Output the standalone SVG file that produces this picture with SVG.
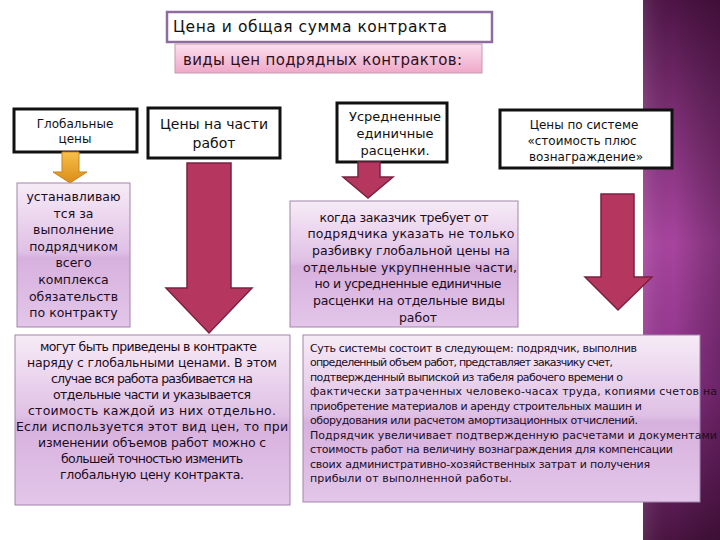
<svg xmlns="http://www.w3.org/2000/svg" width="720" height="540" viewBox="0 0 720 540">
<defs>
<linearGradient id="strip" x1="0" y1="0" x2="0" y2="1">
<stop offset="0" stop-color="#4e1446"/>
<stop offset="0.18" stop-color="#742a6c"/>
<stop offset="0.45" stop-color="#a8449f"/>
<stop offset="0.72" stop-color="#8c3288"/>
<stop offset="1" stop-color="#4a1442"/>
</linearGradient>
<linearGradient id="stripH" x1="0" y1="0" x2="1" y2="0">
<stop offset="0" stop-color="#ffffff" stop-opacity="0.1"/>
<stop offset="0.4" stop-color="#000000" stop-opacity="0"/>
<stop offset="1" stop-color="#200018" stop-opacity="0.3"/>
</linearGradient>
<linearGradient id="lav" x1="0" y1="0" x2="0" y2="1">
<stop offset="0" stop-color="#f7ebf7"/>
<stop offset="0.48" stop-color="#dfc0e5"/>
<stop offset="0.52" stop-color="#d7b1de"/>
<stop offset="1" stop-color="#e3c6e9"/>
</linearGradient>
<linearGradient id="pink" x1="0" y1="0" x2="0" y2="1">
<stop offset="0" stop-color="#fbe0ee"/>
<stop offset="1" stop-color="#efa8c8"/>
</linearGradient>
<linearGradient id="orange" x1="0" y1="0" x2="0" y2="1">
<stop offset="0" stop-color="#f6c04a"/>
<stop offset="1" stop-color="#dc8c18"/>
</linearGradient>
<style>
.hdr{fill:#fff;stroke:#111;stroke-width:3}
.lav{fill:url(#lav);stroke:#a283ab;stroke-width:1}
.arr{fill:#b5375f;stroke:#7a2142;stroke-width:1.5;stroke-linejoin:miter}
text{font-family:"DejaVu Sans","Liberation Sans",sans-serif}
.t12{font-size:12px;fill:#111;text-anchor:middle}
.t13{font-size:13px;fill:#111;text-anchor:middle}
.t14{font-size:14px;fill:#111;text-anchor:middle}
.p{font-size:12.5px;fill:#1c0c1c;text-anchor:middle}
.s{font-size:11px;fill:#1c0c1c}
</style>
</defs>
<rect width="720" height="540" fill="#ffffff"/>
<rect x="643" y="0" width="77" height="540" fill="url(#strip)"/>
<rect x="643" y="0" width="77" height="540" fill="url(#stripH)"/>

<g id="title">
<rect x="167" y="12" width="325" height="30" fill="#fff" stroke="#8f6c9f" stroke-width="2.5"/>
<text x="173" y="32" font-size="15.5" fill="#111" textLength="274">Цена и общая сумма контракта</text>
</g>
<g id="subtitle">
<rect x="175" y="44" width="307" height="29" fill="url(#pink)" stroke="#c69ab0" stroke-width="1"/>
<text x="183" y="65" font-size="15" fill="#2e0f22" textLength="279">виды цен подрядных контрактов:</text>
</g>

<g id="global">
<rect class="hdr" x="14" y="109" width="123" height="43"/>
<text class="t12" x="75" y="128">Глобальные</text>
<text class="t12" x="75" y="143">цены</text>
</g>
<g id="parts">
<rect class="hdr" x="148" y="108" width="132" height="50"/>
<text class="t14" x="214" y="129">Цены на части</text>
<text class="t14" x="214" y="148">работ</text>
</g>
<g id="avg">
<rect class="hdr" x="337" y="103" width="110" height="59"/>
<text class="t13" x="395" y="121">Усредненные</text>
<text class="t13" x="395" y="138">единичные</text>
<text class="t13" x="395" y="155">расценки.</text>
</g>
<g id="costplus">
<rect class="hdr" x="500" y="110" width="172" height="58"/>
<text class="t12" x="584" y="129">Цены по системе</text>
<text class="t12" x="582" y="145">«стоимость плюс</text>
<text class="t12" x="586" y="161">вознаграждение»</text>
</g>

<g id="connectors">
<polygon points="62,152 79,152 79,172 87,172 70,183 53,172 62,172" fill="url(#orange)" stroke="#c98420" stroke-width="1"/>
<polygon class="arr" points="187,163 231,163 231,288 252,288 209,333 166,288 187,288"/>
<polygon class="arr" points="358,162 380,162 380,177 393,177 368,198 343,177 358,177"/>
<polygon class="arr" points="601,194 634,194 634,277 652,277 618,310 585,277 601,277"/>
</g>

<g id="global-desc">
<rect class="lav" x="17" y="183" width="113" height="144"/>
<text class="p" x="73.5" y="201">устанавливаю</text>
<text class="p" x="73.5" y="217.6">тся за</text>
<text class="p" x="73.5" y="234.2">выполнение</text>
<text class="p" x="73.5" y="250.8">подрядчиком</text>
<text class="p" x="73.5" y="267.4">всего</text>
<text class="p" x="73.5" y="284">комплекса</text>
<text class="p" x="73.5" y="300.6">обязательств</text>
<text class="p" x="73.5" y="317.2">по контракту</text>
</g>

<g id="avg-desc">
<rect class="lav" x="290" y="201" width="228" height="126"/>
<text class="p" x="404" y="221.5" textLength="169">когда заказчик требует от</text>
<text class="p" x="411" y="238.2" textLength="207">подрядчика указать не только</text>
<text class="p" x="411" y="254.9" textLength="198">разбивку глобальной цены на</text>
<text class="p" x="410" y="271.6" textLength="214">отдельные укрупненные части,</text>
<text class="p" x="408" y="288.3" textLength="187">но и усредненные единичные</text>
<text class="p" x="409" y="305" textLength="192">расценки на отдельные виды</text>
<text class="p" x="418" y="321.7">работ</text>
</g>

<g id="parts-desc">
<rect class="lav" x="15" y="335" width="275" height="170"/>
<text class="p" x="148.5" y="350.5" textLength="217">могут быть приведены в контракте</text>
<text class="p" x="152" y="366.6" textLength="250">наряду с глобальными ценами. В этом</text>
<text class="p" x="152" y="382.7" textLength="202">случае вся работа разбивается на</text>
<text class="p" x="152" y="398.8" textLength="198">отдельные части и указывается</text>
<text class="p" x="152" y="414.9" textLength="248">стоимость каждой из них отдельно.</text>
<text class="p" x="152" y="431" textLength="272">Если используется этот вид цен, то при</text>
<text class="p" x="152" y="447.1" textLength="228">изменении объемов работ можно с</text>
<text class="p" x="152" y="463.2" textLength="182">большей точностью изменить</text>
<text class="p" x="152" y="479.3" textLength="184">глобальную цену контракта.</text>
</g>

<g id="costplus-desc">
<rect class="lav" x="303" y="335" width="397" height="167"/>
<text class="s" x="310" y="351.5" textLength="327">Суть системы состоит в следующем: подрядчик, выполнив</text>
<text class="s" x="310" y="366" textLength="303">определенный объем работ, представляет заказчику счет,</text>
<text class="s" x="310" y="380.5" textLength="313">подтвержденный выпиской из табеля рабочего времени о</text>
<text class="s" x="310" y="395" textLength="407">фактически затраченных человеко-часах труда, копиями счетов на</text>
<text class="s" x="310" y="409.5" textLength="332">приобретение материалов и аренду строительных машин и</text>
<text class="s" x="310" y="424" textLength="328">оборудования или расчетом амортизационных отчислений.</text>
<text class="s" x="310" y="438.5" textLength="407">Подрядчик увеличивает подтвержденную расчетами и документами</text>
<text class="s" x="310" y="453" textLength="363">стоимость работ на величину вознаграждения для компенсации</text>
<text class="s" x="310" y="467.5" textLength="340">своих административно-хозяйственных затрат и получения</text>
<text class="s" x="310" y="482" textLength="202">прибыли от выполненной работы.</text>
</g>
</svg>
